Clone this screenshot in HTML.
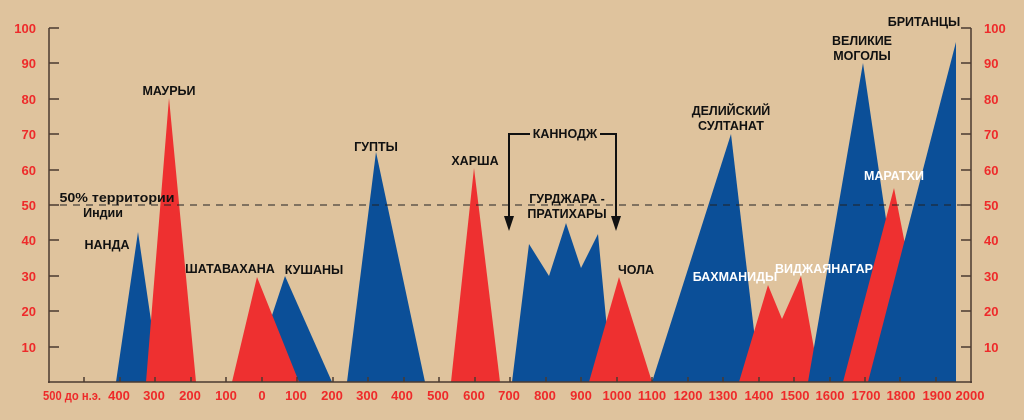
<!DOCTYPE html>
<html><head><meta charset="utf-8"><style>
html,body{margin:0;padding:0;background:#dfc39d;}
svg{display:block}
text{font-family:"Liberation Sans",sans-serif;font-weight:bold;}
</style></head><body>
<svg width="1024" height="420" viewBox="0 0 1024 420" xmlns="http://www.w3.org/2000/svg">
<rect width="1024" height="420" fill="#dfc39d"/>
<g fill="#0b4f98">
<polygon points="116,382 138,232 160,382"/>
<polygon points="250,382 285,276 332,382"/>
<polygon points="347,382 376,152 425,382"/>
<polygon points="512,382 529,244 549,276 566,223 581,268 598,234 612,382"/>
<polygon points="652,382 731,134 760,382"/>
</g>
<g fill="#ee3030">
<polygon points="146,382 169,98 196,382"/>
<polygon points="232,382 257,277 299,382"/>
<polygon points="451,382 474,168 500,382"/>
<polygon points="589,382 619,277 652,382"/>
<polygon points="739,382 768,285 782,319 801,276 820,382"/>
</g>
<polygon fill="#0b4f98" points="808,382 863,63 910,382"/>
<polygon fill="#ee3030" points="843,382 894,188 912,280 880,382"/>
<polygon fill="#0b4f98" points="868,382 956,42 956,382"/>
<line x1="60" y1="205" x2="970" y2="205" stroke="#222" stroke-width="1" stroke-dasharray="7,6"/>
<g stroke="#4a3a30" stroke-width="1.5" fill="none">
<line x1="49" y1="28" x2="49" y2="383"/>
<line x1="971" y1="28" x2="971" y2="383"/>
<line x1="48" y1="382" x2="972" y2="382"/>
<path d="M49,28h10M49,63h10M49,99h10M49,134h10M49,170h10M49,205h10M49,240h10M49,276h10M49,311h10M49,347h10"/>
<path d="M971,28h-10M971,63h-10M971,99h-10M971,134h-10M971,170h-10M971,205h-10M971,240h-10M971,276h-10M971,311h-10M971,347h-10"/>
<path d="M84,382v-5M120,382v-5M155,382v-5M191,382v-5M226,382v-5M262,382v-5M297,382v-5M333,382v-5M368,382v-5M404,382v-5M439,382v-5M475,382v-5M510,382v-5M546,382v-5M581,382v-5M617,382v-5M652,382v-5M688,382v-5M723,382v-5M759,382v-5M794,382v-5M830,382v-5M865,382v-5M900,382v-5M936,382v-5"/>
</g>
<g fill="#ee2a2a" font-size="13" text-anchor="end">
<text x="36" y="33">100</text><text x="36" y="68">90</text><text x="36" y="104">80</text><text x="36" y="139">70</text><text x="36" y="175">60</text><text x="36" y="210">50</text><text x="36" y="245">40</text><text x="36" y="281">30</text><text x="36" y="316">20</text><text x="36" y="352">10</text>
</g>
<g fill="#ee2a2a" font-size="13" text-anchor="start">
<text x="984" y="33">100</text><text x="984" y="68">90</text><text x="984" y="104">80</text><text x="984" y="139">70</text><text x="984" y="175">60</text><text x="984" y="210">50</text><text x="984" y="245">40</text><text x="984" y="281">30</text><text x="984" y="316">20</text><text x="984" y="352">10</text>
</g>
<g fill="#ee2a2a" font-size="13" text-anchor="middle">
<text x="72" y="400" textLength="58" lengthAdjust="spacingAndGlyphs">500 до н.э.</text>
<text x="119" y="400">400</text><text x="154" y="400">300</text><text x="190" y="400">200</text><text x="226" y="400">100</text><text x="262" y="400">0</text><text x="296" y="400">100</text><text x="332" y="400">200</text><text x="367" y="400">300</text><text x="402" y="400">400</text><text x="438" y="400">500</text><text x="474" y="400">600</text><text x="509" y="400">700</text><text x="545" y="400">800</text><text x="581" y="400">900</text><text x="617" y="400">1000</text><text x="652" y="400">1100</text><text x="688" y="400">1200</text><text x="723" y="400">1300</text><text x="759" y="400">1400</text><text x="795" y="400">1500</text><text x="830" y="400">1600</text><text x="866" y="400">1700</text><text x="901" y="400">1800</text><text x="937" y="400">1900</text><text x="970" y="400">2000</text>
</g>
<g fill="#111" font-size="12.5" text-anchor="middle">
<text x="117" y="202" textLength="115" lengthAdjust="spacingAndGlyphs">50% территории</text>
<text x="103" y="217">Индии</text>
<text x="107" y="249">НАНДА</text>
<text x="169" y="95">МАУРЬИ</text>
<text x="230" y="273">ШАТАВАХАНА</text>
<text x="314" y="274">КУШАНЫ</text>
<text x="376" y="151">ГУПТЫ</text>
<text x="475" y="165">ХАРША</text>
<text x="565" y="138">КАННОДЖ</text>
<text x="567" y="203">ГУРДЖАРА -</text>
<text x="567" y="218">ПРАТИХАРЫ</text>
<text x="636" y="274">ЧОЛА</text>
<text x="731" y="115">ДЕЛИЙСКИЙ</text>
<text x="731" y="130">СУЛТАНАТ</text>
<text x="862" y="45">ВЕЛИКИЕ</text>
<text x="862" y="60">МОГОЛЫ</text>
<text x="924" y="26">БРИТАНЦЫ</text>
</g>
<g fill="#fff" font-size="12.5" text-anchor="middle">
<text x="894" y="180">МАРАТХИ</text>
<text x="735" y="281">БАХМАНИДЫ</text>
<text x="824" y="273">ВИДЖАЯНАГАР</text>
</g>
<g stroke="#111" stroke-width="2" fill="none">
<path d="M530,134H509V222"/>
<path d="M600,134H616V222"/>
</g>
<g fill="#111">
<polygon points="504,216 514,216 509,231"/>
<polygon points="611,216 621,216 616,231"/>
</g>
</svg>
</body></html>
